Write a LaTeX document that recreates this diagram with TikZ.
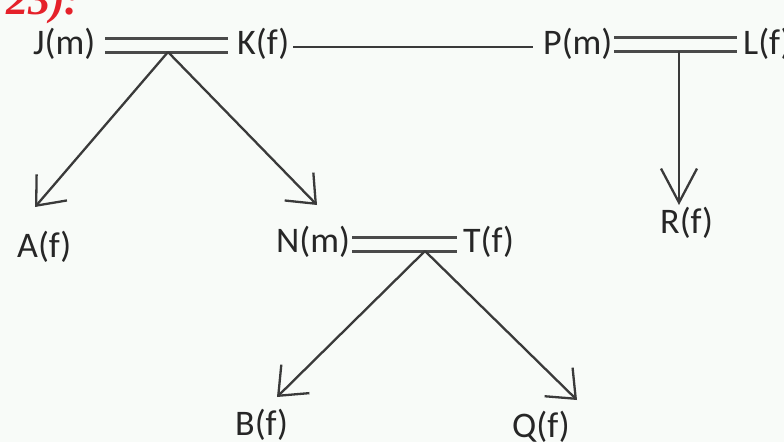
\documentclass[tikz,border=0pt]{standalone}
\usepackage{fontspec}
\setmainfont{Carlito}
\newfontfamily\redserif{Liberation Serif}
\usetikzlibrary{arrows.meta}
\definecolor{bgc}{HTML}{F8FBF8}
\definecolor{linec}{HTML}{3A3A3A}
\definecolor{dblc}{HTML}{4A4A4A}
\definecolor{redc}{HTML}{E5212A}
\tikzset{
  lbl/.style={inner sep=0pt, anchor=base west, font=\fontsize{36}{42}\selectfont, text=black!85},
  dbl/.style={draw=dblc, line width=3pt, double=bgc, double distance=11pt},
  single/.style={draw=linec, line width=2.3pt},
  treearrow/.style={draw=linec, line width=2.3pt, -{Straight Barb[length=24pt,width=40pt,line width=2.3pt]}},
  downarrow/.style={draw=linec, line width=2.3pt, -{Straight Barb[length=34pt,width=36pt,line width=2.3pt]}},
}
\begin{document}
\begin{tikzpicture}[x=1pt,y=-1pt]
\useasboundingbox (0,0) rectangle (784,442);
\fill[bgc] (0,0) rectangle (784,442);
\clip (0,0) rectangle (784,442);
% heading fragment
\node[inner sep=0pt, anchor=base west, text=redc, font=\redserif\bfseries\itshape\fontsize{44}{48}\selectfont] (head) at (6,14) {23):};
% names
\node[lbl] (J) at (33,54) {J(m)};
\node[lbl] (K) at (237,54) {K(f)};
\node[lbl] (P) at (543,54) {P(m)};
\node[lbl] (L) at (743,54) {L(f)};
\node[lbl] (A) at (17,257) {A(f)};
\node[lbl] (N) at (276,252) {N(m)};
\node[lbl] (T) at (463,252) {T(f)};
\node[lbl] (R) at (660,233) {R(f)};
\node[lbl] (B) at (235,435) {B(f)};
\node[lbl] (Q) at (512,437) {Q(f)};
% marriage lines
\coordinate (jk1) at (105,45); \coordinate (jk2) at (228,45);
\coordinate (pl1) at (614,44); \coordinate (pl2) at (737,44);
\coordinate (nt1) at (352,244); \coordinate (nt2) at (457,244);
\draw[dbl] (jk1) -- (jk2);
\draw[dbl] (pl1) -- (pl2);
\draw[dbl] (nt1) -- (nt2);
% sibling line K - P
\coordinate (kp1) at (293,47); \coordinate (kp2) at (533,47);
\draw[single] (kp1) -- (kp2);
% apexes and tips
\coordinate (ap1) at (168,52);
\coordinate (ap2) at (425,251);
\coordinate (ap3) at (679,51);
\coordinate (tA) at (35,207);
\coordinate (tN) at (317,205);
\coordinate (tB) at (277,397);
\coordinate (tQ) at (577,400);
\coordinate (tR) at (679,205);
\draw[treearrow] (ap1) -- (tA);
\draw[treearrow] (ap1) -- (tN);
\draw[treearrow] (ap2) -- (tB);
\draw[treearrow] (ap2) -- (tQ);
\draw[downarrow] (ap3) -- (tR);
\end{tikzpicture}
\end{document}
